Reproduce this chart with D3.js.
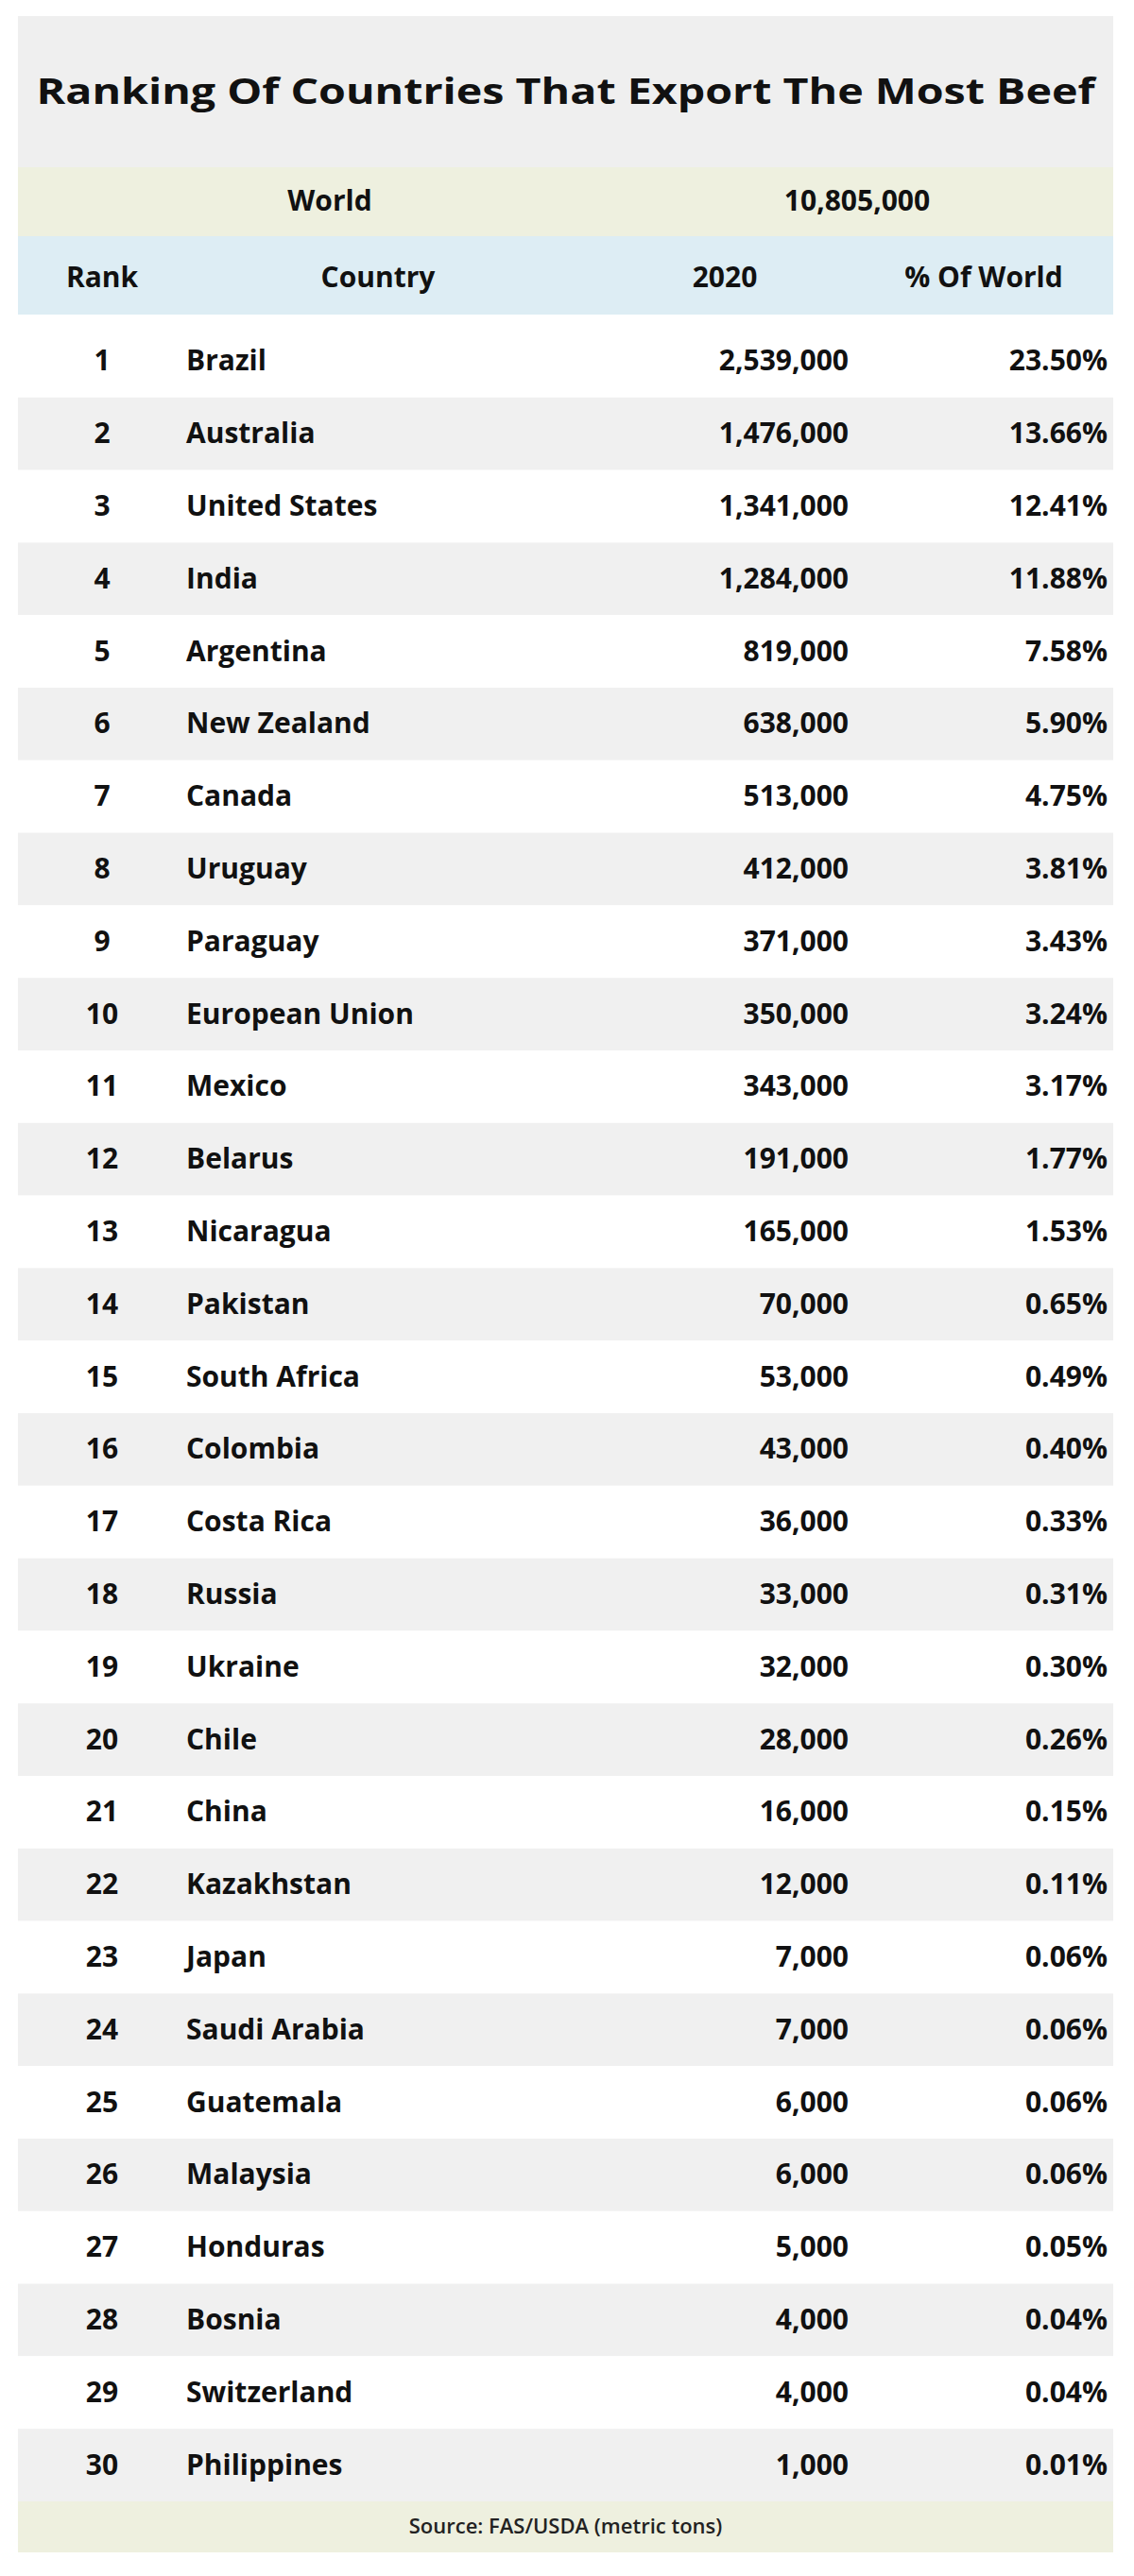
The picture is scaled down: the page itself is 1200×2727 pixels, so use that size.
<!DOCTYPE html>
<html><head><meta charset="utf-8">
<script src="https://cdn.jsdelivr.net/npm/d3@7"></script>
<style>body{margin:0;background:#fff}</style>
</head><body>
<script>
const countries = ['Brazil','Australia','United States','India','Argentina','New Zealand','Canada','Uruguay','Paraguay','European Union','Mexico','Belarus','Nicaragua','Pakistan','South Africa','Colombia','Costa Rica','Russia','Ukraine','Chile','China','Kazakhstan','Japan','Saudi Arabia','Guatemala','Malaysia','Honduras','Bosnia','Switzerland','Philippines'];
const exports2020 = [2539000,1476000,1341000,1284000,819000,638000,513000,412000,371000,350000,343000,191000,165000,70000,53000,43000,36000,33000,32000,28000,16000,12000,7000,7000,6000,6000,5000,4000,4000,1000];
const shares = ['23.50%','13.66%','12.41%','11.88%','7.58%','5.90%','4.75%','3.81%','3.43%','3.24%','3.17%','1.77%','1.53%','0.65%','0.49%','0.40%','0.33%','0.31%','0.30%','0.26%','0.15%','0.11%','0.06%','0.06%','0.06%','0.06%','0.05%','0.04%','0.04%','0.01%'];
const worldTotal = 10805000;

const W = 1200, H = 2727, L = 19, R = 1178;
const font = "'Open Sans', sans-serif";
const fmt = d3.format(',');
const svg = d3.select('body').append('svg').attr('width', W).attr('height', H);

svg.append('rect').attr('x', L).attr('y', 17).attr('width', R - L).attr('height', 160).attr('fill', '#efefef');
svg.append('text').attr('x', (L + R) / 2).attr('y', 100).attr('text-anchor', 'middle')
  .attr('dominant-baseline', 'middle').attr('font-family', font).attr('font-weight', 700)
  .attr('font-size', 38).attr('textLength', 1120).attr('lengthAdjust', 'spacingAndGlyphs')
  .attr('fill', '#111').text('Ranking Of Countries That Export The Most Beef');

svg.append('rect').attr('x', L).attr('y', 177).attr('width', R - L).attr('height', 73).attr('fill', '#eef0df');
svg.append('rect').attr('x', L).attr('y', 250).attr('width', R - L).attr('height', 83).attr('fill', '#ddedf4');

const y = d3.scaleBand().domain(d3.range(1, 31)).range([344, 2648]);
const rows = svg.append('g').selectAll('g').data(countries).join('g')
  .attr('transform', (d, i) => `translate(0,${y(i + 1)})`);
rows.append('rect').attr('x', L).attr('width', R - L).attr('height', y.bandwidth())
  .attr('fill', (d, i) => i % 2 ? '#f0f0f0' : '#fff');

function txt(sel, x, anchor, f) {
  return sel.append('text').attr('x', x).attr('y', y.bandwidth() / 2 + 2).attr('text-anchor', anchor)
    .attr('dominant-baseline', 'middle').attr('font-family', font).attr('font-weight', 700)
    .attr('font-size', 30).attr('fill', '#111').text(f);
}
txt(rows, 108, 'middle', (d, i) => i + 1);
txt(rows, 197, 'start', d => d);
txt(rows, 898, 'end', (d, i) => fmt(exports2020[i]));
txt(rows, 1172, 'end', (d, i) => shares[i]);

function label(x, yy, t, size, anchor) {
  svg.append('text').attr('x', x).attr('y', yy).attr('text-anchor', anchor || 'middle')
    .attr('dominant-baseline', 'middle').attr('font-family', font).attr('font-weight', 700)
    .attr('font-size', size).attr('fill', '#111').text(t);
}
label(349, 215, 'World', 30);
label(907, 215, fmt(worldTotal), 30);
label(108, 296, 'Rank', 30);
label(400, 296, 'Country', 30);
label(767, 296, '2020', 30);
label(1041, 296, '% Of World', 30);

svg.append('rect').attr('x', L).attr('y', 2648).attr('width', R - L).attr('height', 54).attr('fill', '#eef0df');
svg.append('text').attr('x', (L + R) / 2).attr('y', 2676).attr('text-anchor', 'middle')
  .attr('dominant-baseline', 'middle').attr('font-family', font).attr('font-weight', 600)
  .attr('font-size', 22).attr('fill', '#222').text('Source:  FAS/USDA (metric tons)');
</script>
</body></html>
